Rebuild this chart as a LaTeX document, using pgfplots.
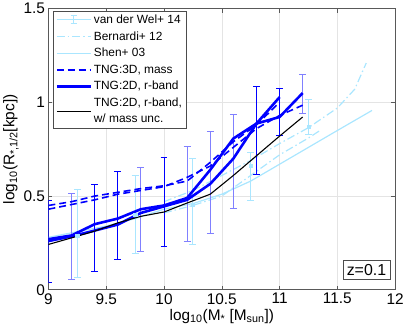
\documentclass[border=0pt]{standalone}
\usepackage{pgfplots}
\pgfplotsset{compat=1.18}
\usepackage{fontspec}
\setmainfont{Liberation Sans}

\definecolor{lblue}{RGB}{170,230,255}
\definecolor{gridgray}{RGB}{228,228,228}
\definecolor{hblue}{RGB}{128,128,255}

\begin{document}
\begin{tikzpicture}
\begin{axis}[
    scale only axis,
    width=349pt, height=283pt,
    xmin=9, xmax=12,
    ymin=0, ymax=1.5,
    xtick={9,9.5,10,10.5,11,11.5,12},
    ytick={0,0.5,1,1.5},
    xticklabels={9,9.5,10,10.5,11,11.5,12},
    yticklabels={0,0.5,1,1.5},
    grid=major,
    grid style={gridgray, line width=0.6pt},
    axis line style={black!65, line width=0.6pt},
    tick style={black!65, line width=0.6pt},
    tick align=inside,
    major tick length=4pt,
    unbounded coords=jump,
    ticklabel style={font=\fontsize{15.5}{15.5}\selectfont},
    label style={font=\fontsize{15.5}{17}\selectfont},
    xlabel={log\textsubscript{10}(M\textsubscript{*} [M\textsubscript{sun}])},
    ylabel={log\textsubscript{10}(R\textsubscript{*,1/2}[kpc])},
    xlabel style={yshift=2pt},
    ylabel style={yshift=-2pt},
    legend image code/.code={\draw[#1] (0pt,0pt) -- (34pt,0pt);},
    legend style={at={(0.014,0.993)}, anchor=north west, draw=black!70,
      font=\fontsize{12}{16.5}\selectfont, cells={anchor=west, align=left},
      row sep=2.6pt, inner xsep=2pt, inner ysep=2pt},
]

% van der Wel+ 14: bars (low, high) and points
\addplot[lblue, line width=1pt,
    legend image code/.code={
      \draw[lblue, line width=1pt] (0pt,0pt) -- (34pt,0pt);
      \draw[lblue, line width=1pt] (17pt,-4pt) -- (17pt,4pt);
      \draw[lblue, line width=1pt] (14pt,4pt) -- (20pt,4pt) (14pt,-4pt) -- (20pt,-4pt);}]
coordinates {
  (9.25,0.065) (9.25,0.537) (9.25,nan) (9.22,0.537) (9.28,0.537) (9.25,nan) (9.22,0.065) (9.28,0.065) (9.25,nan)
  (9.75,0.196) (9.75,0.608) (9.75,nan) (9.72,0.608) (9.78,0.608) (9.75,nan) (9.72,0.196) (9.78,0.196) (9.75,nan)
  (10.25,0.242) (10.25,0.700) (10.25,nan) (10.22,0.700) (10.28,0.700) (10.25,nan) (10.22,0.242) (10.28,0.242) (10.25,nan)
  (10.75,0.475) (10.75,0.735) (10.75,nan) (10.72,0.735) (10.78,0.735) (10.75,nan) (10.72,0.475) (10.78,0.475) (10.75,nan)
  (11.25,0.826) (11.25,1.017) (11.25,nan) (11.22,1.017) (11.28,1.017) (11.25,nan) (11.22,0.826) (11.28,0.826)
};
\addlegendentry{van der Wel+ 14}
\addplot[lblue, only marks, mark=square*, mark size=1.7pt, forget plot]
coordinates {(9.25,0.290) (9.75,0.400) (10.25,0.454) (10.75,0.662) (11.25,0.870)};

% Bernardi+ 12
\addplot[lblue, line width=1.2pt, dash pattern=on 8pt off 3pt on 1.5pt off 3pt]
coordinates {
  (10.0,0.47) (10.25,0.53) (10.5,0.61) (10.75,0.69) (11.0,0.78)
  (11.25,0.865) (11.5,0.97) (11.65,1.07) (11.75,1.21)
};
\addlegendentry{Bernardi+ 12}

% Shen+ 03
\addplot[lblue, line width=1.2pt]
coordinates {
  (9.0,0.28) (9.25,0.31) (9.5,0.34) (9.75,0.38) (10.0,0.43) (10.25,0.46)
  (10.5,0.51) (10.75,0.58) (11.0,0.67) (11.25,0.76) (11.5,0.85) (11.8,0.957)
};
\addlegendentry{Shen+ 03}

\addplot[lblue, line width=1.2pt, dash pattern=on 8pt off 3pt on 1.5pt off 3pt, forget plot]
coordinates {
  (10.0,0.41) (10.25,0.45) (10.5,0.50) (10.75,0.61) (11.0,0.72) (11.25,0.81) (11.35,0.85)
};

% TNG spread bars (low, high)
\addplot[blue, line width=0.9pt, forget plot]
coordinates {
  (9.0,0.039) (9.0,0.477) (9.0,nan) (8.97,0.477) (9.03,0.477) (9.0,nan) (8.97,0.039) (9.03,0.039) (9.0,nan)
  (9.4,0.100) (9.4,0.563) (9.4,nan) (9.37,0.563) (9.43,0.563) (9.4,nan) (9.37,0.100) (9.43,0.100) (9.4,nan)
  (9.6,0.160) (9.6,0.630) (9.6,nan) (9.57,0.630) (9.63,0.630) (9.6,nan) (9.57,0.160) (9.63,0.160) (9.6,nan)
  (10.0,0.232) (10.0,0.705) (10.0,nan) (9.97,0.705) (10.03,0.705) (10.0,nan) (9.97,0.232) (10.03,0.232) (10.0,nan)
  (10.8,0.613) (10.8,1.086) (10.8,nan) (10.77,1.086) (10.83,1.086) (10.8,nan) (10.77,0.613) (10.83,0.613) (10.8,nan)
  (11.0,0.825) (11.0,1.072) (11.0,nan) (10.97,1.072) (11.03,1.072) (11.0,nan) (10.97,0.825) (11.03,0.825)
};
\addplot[hblue, line width=0.9pt, forget plot]
coordinates {
  (9.2,0.053) (9.2,0.516) (9.2,nan) (9.17,0.516) (9.23,0.516) (9.2,nan) (9.17,0.053) (9.23,0.053) (9.2,nan)
  (9.8,0.207) (9.8,0.652) (9.8,nan) (9.77,0.652) (9.83,0.652) (9.8,nan) (9.77,0.207) (9.83,0.207) (9.8,nan)
  (10.2,0.256) (10.2,0.763) (10.2,nan) (10.17,0.763) (10.23,0.763) (10.2,nan) (10.17,0.256) (10.23,0.256) (10.2,nan)
  (10.4,0.302) (10.4,0.843) (10.4,nan) (10.37,0.843) (10.43,0.843) (10.4,nan) (10.37,0.302) (10.43,0.302) (10.4,nan)
  (10.6,0.436) (10.6,0.934) (10.6,nan) (10.57,0.934) (10.63,0.934) (10.6,nan) (10.57,0.436) (10.63,0.436) (10.6,nan)
  (11.2,0.940) (11.2,1.148) (11.2,nan) (11.17,1.148) (11.23,1.148) (11.2,nan) (11.17,0.940) (11.23,0.940)
};

% TNG:3D, mass
\addplot[blue, line width=1.6pt, dash pattern=on 7pt off 4pt]
coordinates {
  (9.0,0.45) (9.2,0.47) (9.4,0.50) (9.6,0.52) (9.8,0.54) (10.0,0.555)
  (10.2,0.58) (10.4,0.68) (10.6,0.79) (10.8,0.88) (11.0,1.00)
};
\addlegendentry{TNG:3D, mass}
\addplot[blue, line width=1.6pt, dash pattern=on 7pt off 4pt, forget plot]
coordinates {
  (9.0,0.43) (9.2,0.455) (9.4,0.48) (9.6,0.51) (9.8,0.53) (10.0,0.55)
  (10.2,0.60) (10.4,0.66) (10.6,0.76) (10.8,0.86) (11.0,0.93) (11.2,0.985)
};

% TNG:2D, r-band
\addplot[blue, line width=2.6pt]
coordinates {
  (9.0,0.27) (9.2,0.29) (9.4,0.35) (9.6,0.38) (9.8,0.43) (10.0,0.45)
  (10.2,0.49) (10.4,0.64) (10.6,0.807) (10.8,0.887) (11.0,1.028)
};
\addlegendentry{TNG:2D, r-band}
\addplot[blue, line width=2.6pt, forget plot]
coordinates {
  (9.0,0.26) (9.2,0.285) (9.4,0.316) (9.6,0.348) (9.8,0.41) (10.0,0.445)
  (10.2,0.48) (10.4,0.565) (10.6,0.70) (10.8,0.887) (11.0,0.922) (11.2,1.05)
};

% TNG:2D, r-band, w/ mass unc.
\addplot[black, line width=1.1pt]
coordinates {
  (9.0,0.242) (9.2,0.277) (9.4,0.313) (9.6,0.357) (9.8,0.392) (10.0,0.415)
  (10.2,0.463) (10.4,0.51) (10.6,0.61) (10.8,0.715) (11.0,0.82) (11.2,0.922)
};
\addlegendentry{TNG:2D, r-band,\\w/ mass unc.}

\node[draw=black!70, fill=white, anchor=south east, inner sep=4pt,
      font=\fontsize{16}{16}\selectfont] at (rel axis cs:0.986,0.036) {z=0.1};
\end{axis}
\end{tikzpicture}
\end{document}
